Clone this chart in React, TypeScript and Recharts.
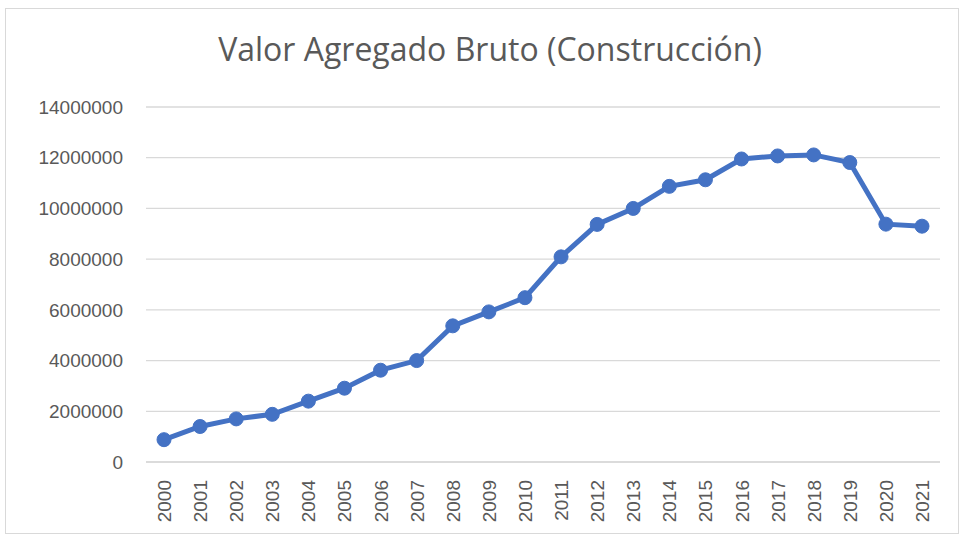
import { LineChart, Line, XAxis, YAxis, CartesianGrid } from 'recharts'

const years = ['2000', '2001', '2002', '2003', '2004', '2005', '2006', '2007', '2008', '2009', '2010', '2011', '2012', '2013', '2014', '2015', '2016', '2017', '2018', '2019', '2020', '2021']
const valores = [880000, 1400000, 1700000, 1880000, 2400000, 2910000, 3620000, 4000000, 5370000, 5920000, 6480000, 8090000, 9370000, 10000000, 10870000, 11130000, 11950000, 12070000, 12110000, 11810000, 9380000, 9300000]
const yTicks = [0, 2000000, 4000000, 6000000, 8000000, 10000000, 12000000, 14000000]

const data = years.map((anio, i) => ({ anio, valor: valores[i] }))

const gris = '#595959'
const azul = '#4472C4'

function YearTick(props: any) {
  const { x, y, payload } = props
  return (
    <g transform={`translate(${x},${y + 18})`}>
      <text
        x={0}
        y={0}
        dy={7}
        transform="rotate(-90)"
        textAnchor="end"
        fill={gris}
        fontSize={19}
        fontFamily="Liberation Sans, Arial, sans-serif"
      >
        {payload.value}
      </text>
    </g>
  )
}

export default function App() {
  return (
    <div
      style={{
        position: 'absolute',
        left: 5,
        top: 8,
        width: 952,
        height: 524,
        border: '1px solid #d9d9d9',
        background: '#ffffff',
      }}
    >
      <div
        style={{
          position: 'absolute',
          left: 0,
          top: 24,
          width: 950,
          paddingLeft: 18,
          boxSizing: 'border-box',
          textAlign: 'center',
          fontFamily: 'Open Sans, sans-serif',
          fontSize: 32,
          lineHeight: '32px',
          color: gris,
        }}
      >
        Valor Agregado Bruto (Construcción)
      </div>
      <LineChart width={950} height={522} data={data} margin={{ top: 98, right: 16, left: 0, bottom: 0 }}>
        <CartesianGrid vertical={false} stroke="#d9d9d9" strokeWidth={1.3} />
        <XAxis
          dataKey="anio"
          height={69}
          tickSize={0}
          tickMargin={0}
          interval={0}
          padding={{ left: 18, right: 18 }}
          axisLine={{ stroke: '#d9d9d9', strokeWidth: 1.3 }}
          tick={<YearTick />}
        />
        <YAxis
          width={140}
          domain={[0, 14000000]}
          ticks={yTicks}
          axisLine={false}
          tickLine={false}
          tickSize={0}
          tickMargin={23}
          tick={{ fill: gris, fontSize: 19, fontFamily: 'Liberation Sans, Arial, sans-serif' }}
        />
        <Line
          type="linear"
          dataKey="valor"
          stroke={azul}
          strokeWidth={5}
          dot={{ r: 7, fill: azul, stroke: azul, strokeWidth: 1 }}
          activeDot={false}
          isAnimationActive={false}
        />
      </LineChart>
    </div>
  )
}
